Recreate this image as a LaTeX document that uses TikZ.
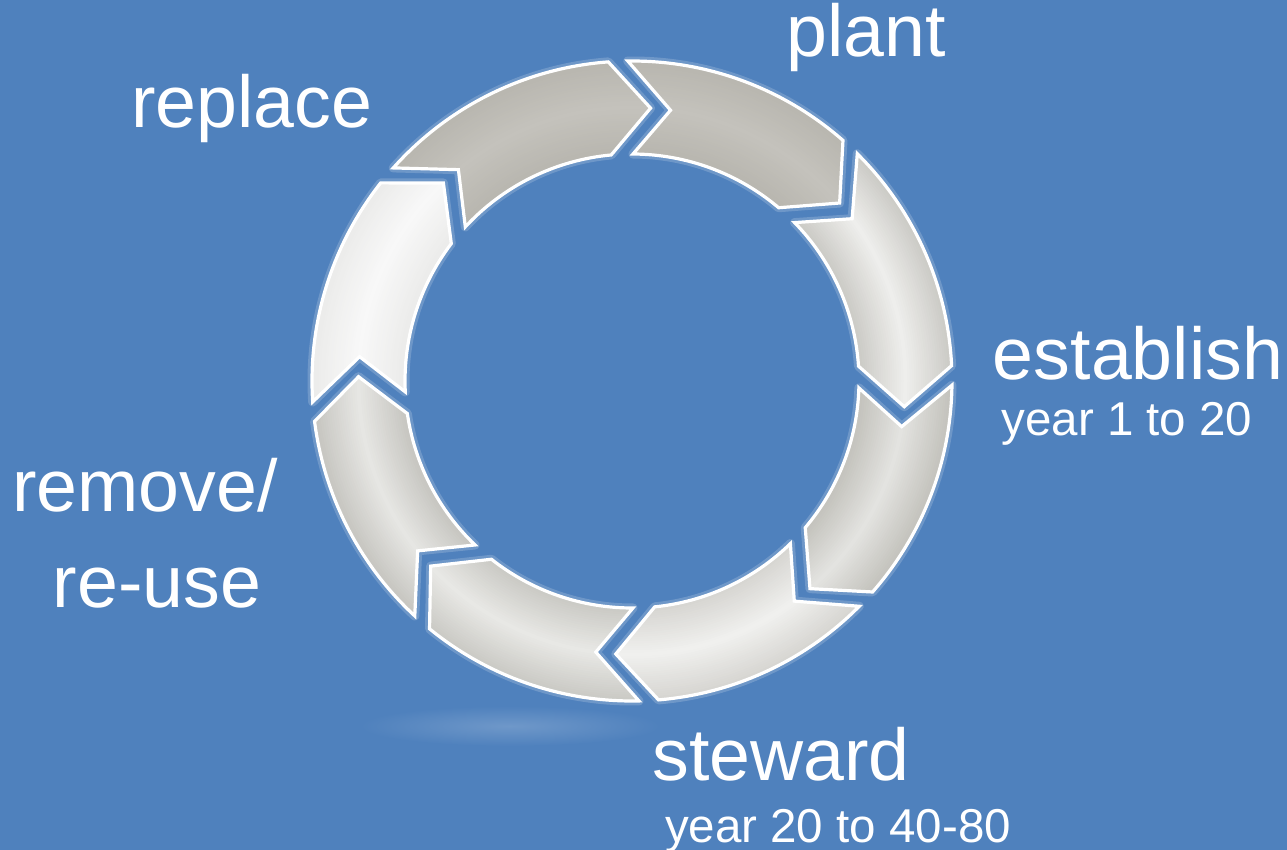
\documentclass[tikz,border=0pt]{standalone}
\usepackage{fontspec}
\setmainfont{Liberation Sans}
\definecolor{bg}{HTML}{4F81BD}
\definecolor{gA}{HTML}{B8B6AF}
\definecolor{gAl}{HTML}{C4C2BC}
\definecolor{gB}{HTML}{CBCAC5}
\definecolor{gBl}{HTML}{EEEEEC}
\definecolor{gC}{HTML}{C3C2BC}
\definecolor{gCl}{HTML}{E3E3E0}
\definecolor{gD}{HTML}{D6D5D1}
\definecolor{gDl}{HTML}{F0F0EE}
\definecolor{gE}{HTML}{CAC9C4}
\definecolor{gEl}{HTML}{E8E8E5}
\definecolor{gF}{HTML}{C6C5C0}
\definecolor{gFl}{HTML}{E6E6E3}
\definecolor{gG}{HTML}{EBEBEA}
\definecolor{gGl}{HTML}{F8F8F8}
\def\Ro{320pt}
\def\Ri{227pt}
\def\Rm{273.5pt}
\def\go{1.75}
\def\gi{2.75}
\def\gm{2.1}
\def\dd{8.5}
\newcommand{\segshape}[2]{({#1-\go}:\Ro) arc[start angle={#1-\go}, end angle={#2+\go}, radius=\Ro] -- ({#2+\gm-\dd}:\Rm) -- ({#2+\gi}:\Ri) arc[start angle={#2+\gi}, end angle={#1-\gi}, radius=\Ri] -- ({#1-\gm-\dd}:\Rm) -- cycle}
\newcommand{\drawseg}[4]{%
  \draw[white, opacity=0.18, line width=9pt, line join=round] \segshape{#1}{#2};
  \begin{scope}
    \clip \segshape{#1}{#2};
    \fill[#3] (0,0) circle[radius=330pt];
    \foreach \k in {0,...,20} {
      \pgfmathsetmacro\lw{94-4.5*\k}
      \pgfmathtruncatemacro\pct{\k*5}
      \draw[line width=\lw pt, color=#4!\pct!#3] (0,0) circle[radius=\Rm];
    }
  \end{scope}
  \draw[white, line width=3.2pt, line join=miter] \segshape{#1}{#2};
}
\begin{document}
\begin{tikzpicture}[x=1pt,y=1pt,
  lbl/.style={text=white, inner sep=0pt, anchor=base, font=\fontsize{73.5}{80}\selectfont},
  sublbl/.style={text=white, inner sep=0pt, anchor=base, font=\fontsize{47.5}{52}\selectfont}]
\fill[bg] (-632,-469) rectangle (655,381);
\useasboundingbox (-632,-469) rectangle (655,381);
% reflection
\shade[inner color=white!18!bg, outer color=bg] (-122,-345) ellipse (150 and 20);
% segments (clockwise from top)
\drawseg{92.5}{47}{gA}{gAl}
\drawseg{47}{1}{gB}{gBl}
\drawseg{1}{-43}{gC}{gCl}
\drawseg{-43}{-87}{gD}{gDl}
\drawseg{-87}{-131}{gE}{gEl}
\drawseg{-131}{-174.5}{gF}{gFl}
\drawseg{-174.5}{-220}{gG}{gGl}
\drawseg{-220}{-267.5}{gA}{gAl}
% labels
\node[lbl] (plant) at (234,324) {plant};
\node[lbl] (replace) at (-380,253) {replace};
\node[lbl] (establish) at (506,1) {establish};
\node[sublbl] (est) at (495,-55) {year 1 to 20};
\node[lbl] (remove) at (-487,-131) {remove/};
\node[lbl] (reuse) at (-475,-226) {re-use};
\node[lbl] (steward) at (149,-399) {steward};
\node[sublbl] (stw) at (206,-461) {year 20 to 40-80};
\end{tikzpicture}
\end{document}
